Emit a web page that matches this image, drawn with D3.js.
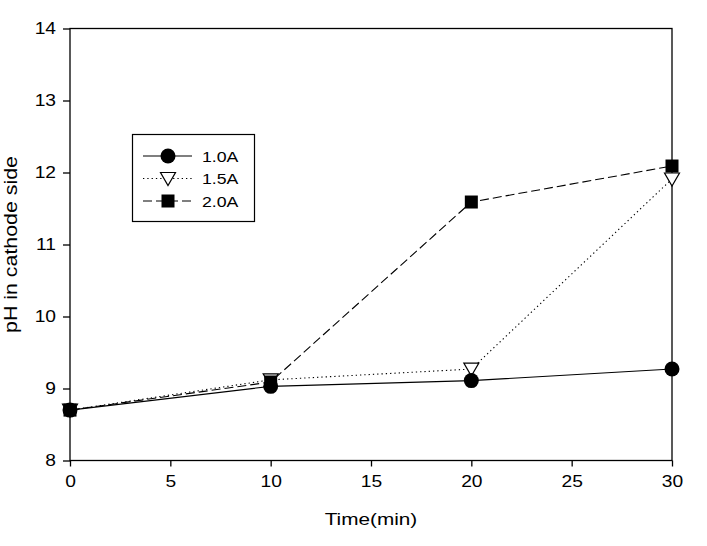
<!DOCTYPE html>
<html>
<head>
<meta charset="utf-8">
<script src="https://cdn.jsdelivr.net/npm/d3@7"></script>
<style>
  body { margin: 0; background: #fff; }
  text { font-family: Arial, "Liberation Sans", sans-serif; fill: #000; }
</style>
</head>
<body>
<div id="chart"></div>
<script>
// data
const times = [0, 10, 20, 30]
const series = ['1.0A', '1.5A', '2.0A']
const ph10 = [8.70, 9.03, 9.11, 9.27]
const ph15 = [8.70, 9.12, 9.27, 11.91]
const ph20 = [8.70, 9.09, 11.59, 12.09]
const xTicks = [0, 5, 10, 15, 20, 25, 30]
const yTicks = [8, 9, 10, 11, 12, 13, 14]

const width = 707, height = 546
const margin = {left: 70, right: 35, top: 28.5, bottom: 85.5}

const svg = d3.select('#chart').append('svg')
  .attr('width', width)
  .attr('height', height)

const x = d3.scaleLinear().domain([0, 30]).range([margin.left, width - margin.right])
const y = d3.scaleLinear().domain([8, 14]).range([height - margin.bottom, margin.top])

// the source font runs wider than Liberation Sans, so stretch glyphs a bit
const stretch = (sel, k) => sel.each(function () {
  const len = this.getComputedTextLength()
  d3.select(this).attr('textLength', len * k).attr('lengthAdjust', 'spacingAndGlyphs')
})

// frame
svg.append('rect')
  .attr('x', x(0)).attr('y', y(14))
  .attr('width', x(30) - x(0)).attr('height', y(8) - y(14))
  .attr('fill', 'none').attr('stroke', '#000').attr('stroke-width', 1.3)

// axes
const xAxis = svg.append('g')
  .attr('transform', `translate(0,${y(8)})`)
  .call(d3.axisBottom(x).tickValues(xTicks).tickSize(6).tickPadding(9).tickFormat(d3.format('d')))
const yAxis = svg.append('g')
  .attr('transform', `translate(${x(0)},0)`)
  .call(d3.axisLeft(y).tickValues(yTicks).tickSize(7).tickPadding(7).tickFormat(d3.format('d')))

;[xAxis, yAxis].forEach(a => {
  a.select('.domain').remove()
  a.selectAll('line').attr('stroke', '#000').attr('stroke-width', 1.3)
  a.selectAll('text').attr('font-size', 16).attr('font-family', 'Arial, "Liberation Sans", sans-serif').attr('fill', '#000')
  stretch(a.selectAll('text'), 1.2)
})

svg.append('text')
  .attr('x', (x(0) + x(30)) / 2).attr('y', 525)
  .attr('text-anchor', 'middle').attr('font-size', 17)
  .text('Time(min)')
  .call(stretch, 1.22)

svg.append('text')
  .attr('transform', `translate(17,${(y(8) + y(14)) / 2}) rotate(-90)`)
  .attr('text-anchor', 'middle').attr('font-size', 17.5)
  .text('pH in cathode side')
  .call(stretch, 1.22)

// series styling
const styles = [
  {name: series[0], values: ph10, dash: null, marker: 'circle'},
  {name: series[1], values: ph15, dash: '1.3,3', marker: 'triangle'},
  {name: series[2], values: ph20, dash: '9,4', marker: 'square'}
]

const line = d3.line().x(d => x(d[0])).y(d => y(d[1]))

const drawMarker = (g, type, cx, cy) => {
  if (type === 'circle') {
    g.append('circle').attr('cx', cx).attr('cy', cy).attr('r', 7.5).attr('fill', '#000')
  } else if (type === 'square') {
    g.append('rect').attr('x', cx - 6.5).attr('y', cy - 6.5).attr('width', 13).attr('height', 13).attr('fill', '#000')
  } else {
    g.append('path')
      .attr('d', `M${cx - 7.5},${cy - 6} L${cx + 7.5},${cy - 6} L${cx},${cy + 7} Z`)
      .attr('fill', '#fff').attr('stroke', '#000').attr('stroke-width', 1.2)
  }
}

// lines first
styles.forEach(s => {
  svg.append('path')
    .datum(times.map((t, i) => [t, s.values[i]]))
    .attr('d', line)
    .attr('fill', 'none')
    .attr('stroke', '#000')
    .attr('stroke-width', 1.1)
    .attr('stroke-dasharray', s.dash)
})

// markers: triangle, circle, square on top
;[styles[1], styles[0], styles[2]].forEach(s => {
  const g = svg.append('g')
  times.forEach((t, i) => drawMarker(g, s.marker, x(t), y(s.values[i])))
})

// legend
const legend = svg.append('g')
legend.append('rect')
  .attr('x', 132.5).attr('y', 134.5).attr('width', 122).attr('height', 87)
  .attr('fill', '#fff').attr('stroke', '#000').attr('stroke-width', 1.2)

styles.forEach((s, i) => {
  const cy = 156 + i * 22.5
  legend.append('line')
    .attr('x1', 143).attr('x2', 192).attr('y1', cy).attr('y2', cy)
    .attr('stroke', '#000').attr('stroke-width', 1.1)
    .attr('stroke-dasharray', s.dash)
  drawMarker(legend, s.marker, 168, cy)
  legend.append('text')
    .attr('x', 202).attr('y', cy + 5.5)
    .attr('font-size', 14.5)
    .text(s.name)
    .call(stretch, 1.22)
})
</script>
</body>
</html>
